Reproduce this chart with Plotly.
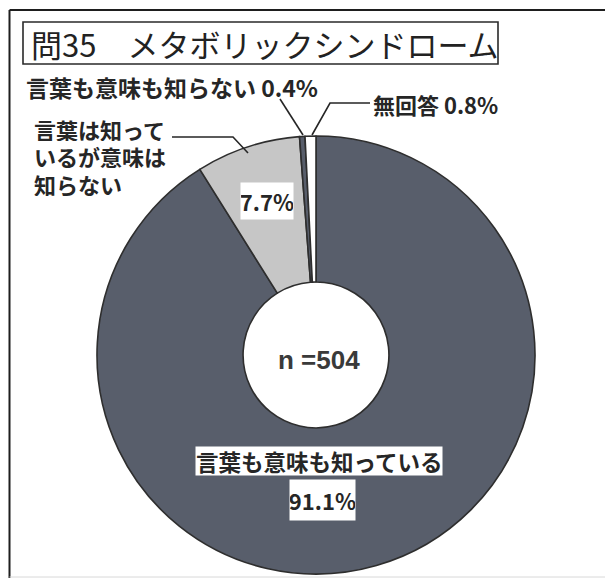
import plotly.graph_objects as go

# Survey responses for Q35 (metabolic syndrome awareness)
categories = ["言葉も意味も知っている", "言葉は知っているが意味は知らない", "言葉も意味も知らない", "無回答"]
shares = [91.1, 7.7, 0.4, 0.8]
sample_size = 504
title_text = "問35　メタボリックシンドローム"
# the long category name is wrapped over three lines beside the chart
wrapped_label = ["言葉は知って", "いるが意味は", "知らない"]

slice_colors = ["#585e6b", "#c6c6c6", "#585e6b", "#ffffff"]

W, H = 605, 578
JP = "Noto Sans CJK JP"
INK = "#262626"


def px(x):
    return x / W


def py(y):
    return 1 - y / H


def pct(v):
    return f"{v:.1f}%"


fig = go.Figure(
    go.Pie(
        labels=categories,
        values=shares,
        sort=False,
        direction="clockwise",
        rotation=0,
        hole=0.333,
        marker=dict(colors=slice_colors, line=dict(color="#2e2e2e", width=1.6)),
        textinfo="none",
        hoverinfo="label+percent",
        showlegend=False,
        domain=dict(x=[px(97), px(535)], y=[py(574), py(136)]),
    )
)

shapes = [
    # outer frame
    dict(type="line", x0=px(9.5), x1=px(9.5), y0=py(10), y1=0, line=dict(color="#1e1e1e", width=2)),
    dict(type="line", x0=px(9.5), x1=1, y0=py(10), y1=py(10), line=dict(color="#1e1e1e", width=2)),
    dict(type="line", x0=px(9.5), x1=1, y0=py(577), y1=py(577), line=dict(color="#d8d8d8", width=1)),
    # title box
    dict(type="rect", x0=px(23), x1=px(498), y0=py(64), y1=py(22),
         line=dict(color="#2a2a2a", width=1.6), fillcolor="rgba(0,0,0,0)"),
    # leader lines
    dict(type="path", path=f"M {px(280)} {py(99)} L {px(303)} {py(135)}",
         line=dict(color=INK, width=1.6)),
    dict(type="path", path=f"M {px(370)} {py(103)} L {px(330)} {py(103)} L {px(312)} {py(135)}",
         line=dict(color=INK, width=1.6)),
    dict(type="path", path=f"M {px(172)} {py(137)} L {px(233)} {py(137)} L {px(248)} {py(153)}",
         line=dict(color=INK, width=1.6)),
]

annotations = [
    dict(text=title_text, x=px(29), y=py(43), xanchor="left", yanchor="middle",
         font=dict(family=JP, size=31, color="#222222")),
    dict(text=f"<b>{categories[2]} {pct(shares[2])}</b>", x=px(24), y=py(87),
         xanchor="left", yanchor="middle", font=dict(family=JP, size=23, color=INK)),
    dict(text=f"<b>{categories[3]} {pct(shares[3])}</b>", x=px(371), y=py(104),
         xanchor="left", yanchor="middle", font=dict(family=JP, size=22, color=INK)),
    dict(text=f"<b>{pct(shares[1])}</b>", x=px(267), y=py(201), xanchor="center", yanchor="middle",
         bgcolor="#ffffff", width=52, height=36, borderpad=0,
         font=dict(family=JP, size=22, color=INK)),
    dict(text=f"<b>{categories[0]}</b>", x=px(319), y=py(461), xanchor="center", yanchor="middle",
         bgcolor="#ffffff", borderpad=0, height=28,
         font=dict(family=JP, size=22.5, color=INK)),
    dict(text=f"<b>{pct(shares[0])}</b>", x=px(322), y=py(500), xanchor="center", yanchor="middle",
         bgcolor="#ffffff", width=65, height=40, borderpad=0,
         font=dict(family=JP, size=22, color=INK)),
    dict(text=f"<b>n ={sample_size}</b>", x=px(319), y=py(360), xanchor="center", yanchor="middle",
         font=dict(family="Liberation Sans", size=26, color="#3a3a3a")),
]

for line_text, yc in zip(wrapped_label, [128, 155, 183]):
    annotations.append(
        dict(text=f"<b>{line_text}</b>", x=px(33), y=py(yc), xanchor="left", yanchor="middle",
             height=25, borderpad=0, font=dict(family=JP, size=22, color=INK))
    )

for a in annotations:
    a.update(xref="paper", yref="paper", showarrow=False)
for s in shapes:
    s.update(xref="paper", yref="paper")

fig.update_layout(
    width=W,
    height=H,
    margin=dict(l=0, r=0, t=0, b=0),
    paper_bgcolor="#ffffff",
    plot_bgcolor="#ffffff",
    shapes=shapes,
    annotations=annotations,
)

fig.write_html("out.html")
